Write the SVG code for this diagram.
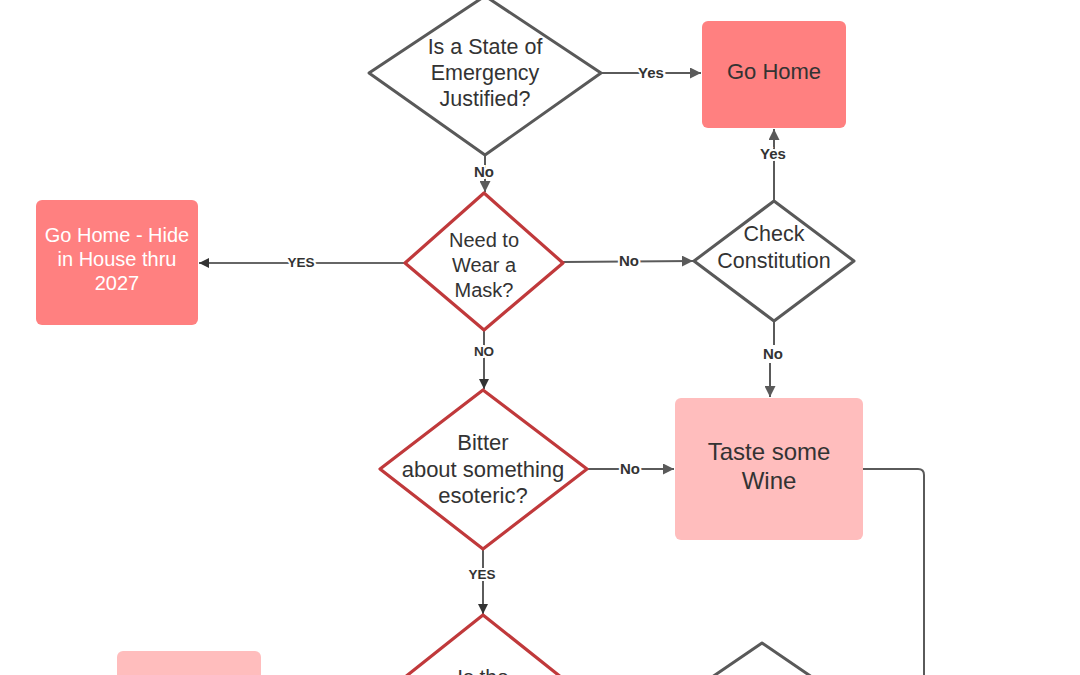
<svg xmlns="http://www.w3.org/2000/svg" width="1080" height="675" viewBox="0 0 1080 675">
<style>
.bg{fill:#ffffff}
.dg{fill:#ffffff;stroke:#595959;stroke-width:3;stroke-linejoin:round}
.dr{fill:#ffffff;stroke:#c0393b;stroke-width:3.2;stroke-linejoin:round}
.bx{fill:#ff8080}
.bp{fill:#ffbdbd}
.t{font-family:"Liberation Sans",Arial,sans-serif;fill:#333333;text-anchor:middle}
.tw{font-family:"Liberation Sans",Arial,sans-serif;fill:#ffffff;text-anchor:middle}
.c{fill:none;stroke:#5a5a5a;stroke-width:2}
.cd{fill:none;stroke:#333333;stroke-width:1.6}
.lb{font-family:"Liberation Sans",Arial,sans-serif;font-weight:bold;font-size:15px;fill:#333333;text-anchor:middle;stroke:#ffffff;stroke-width:4;paint-order:stroke}
.ls{font-size:13.5px}
</style>
<defs>
<marker id="ah" viewBox="0 0 10 10" refX="10" refY="5" markerWidth="11" markerHeight="11" markerUnits="userSpaceOnUse" orient="auto"><path d="M0,0 L10,5 L0,10 z" fill="#5a5a5a"/></marker>
<marker id="ahd" viewBox="0 0 10 10" refX="10" refY="5" markerWidth="10" markerHeight="10" markerUnits="userSpaceOnUse" orient="auto"><path d="M0,0 L10,5 L0,10 z" fill="#333333"/></marker>
</defs>
<rect class="bg" x="0" y="0" width="1080" height="675"/>

<g id="connectors">
<path class="c" d="M601,73 L701,73" marker-end="url(#ah)"/>
<text class="lb" x="651" y="78">Yes</text>
<path class="c" d="M485,155 L485,192" marker-end="url(#ah)"/>
<text class="lb" x="484" y="177">No</text>
<path class="cd" d="M405,263 L199,263" marker-end="url(#ahd)"/>
<text class="lb ls" x="301" y="267">YES</text>
<path class="c" d="M563,262 L693,261" marker-end="url(#ah)"/>
<text class="lb" x="629" y="266">No</text>
<path class="c" d="M774,201 L774,129" marker-end="url(#ah)"/>
<text class="lb" x="773" y="159">Yes</text>
<path class="c" d="M774,321 L774,345"/>
<path class="c" d="M770,363 L770,397" marker-end="url(#ah)"/>
<text class="lb" x="773" y="359">No</text>
<path class="cd" d="M484,330 L484,389" marker-end="url(#ahd)"/>
<text class="lb ls" x="484" y="356">NO</text>
<path class="c" d="M587,469 L674,469" marker-end="url(#ah)"/>
<text class="lb" x="630" y="474">No</text>
<path class="cd" d="M483,549 L483,614" marker-end="url(#ahd)"/>
<text class="lb ls" x="482" y="579">YES</text>
<path class="c" d="M863,469 L918,469 Q924,469 924,475 L924,680"/>
</g>

<g id="n-state">
<polygon class="dg" points="485,-4 601,73 485,155 369,73"/>
<text class="t" x="485" y="54" font-size="21.5">Is a State of</text>
<text class="t" x="485" y="80" font-size="21.5">Emergency</text>
<text class="t" x="485" y="106" font-size="21.5">Justified?</text>
</g>

<g id="n-gohome">
<rect class="bx" x="702" y="21" width="144" height="107" rx="6"/>
<text class="t" x="774" y="79" font-size="22">Go Home</text>
</g>

<g id="n-mask">
<polygon class="dr" points="484,193 563,263 484,330 405,263"/>
<text class="t" x="484" y="247" font-size="20">Need to</text>
<text class="t" x="484" y="272" font-size="20">Wear a</text>
<text class="t" x="484" y="297" font-size="20">Mask?</text>
</g>

<g id="n-hide">
<rect class="bx" x="36" y="200" width="162" height="125" rx="6"/>
<text class="tw" x="117" y="242" font-size="20">Go Home - Hide</text>
<text class="tw" x="117" y="266" font-size="20">in House thru</text>
<text class="tw" x="117" y="290" font-size="20">2027</text>
</g>

<g id="n-constitution">
<polygon class="dg" points="774,201 854,261 774,321 694,261"/>
<text class="t" x="774" y="241" font-size="21.5">Check</text>
<text class="t" x="774" y="268" font-size="21.5">Constitution</text>
</g>

<g id="n-bitter">
<polygon class="dr" points="483,390 587,469 483,549 380,469"/>
<text class="t" x="483" y="450" font-size="22">Bitter</text>
<text class="t" x="483" y="477" font-size="22">about something</text>
<text class="t" x="483" y="503" font-size="22">esoteric?</text>
</g>

<g id="n-wine">
<rect class="bp" x="675" y="398" width="188" height="142" rx="6"/>
<text class="t" x="769" y="460" font-size="24">Taste some</text>
<text class="t" x="769" y="489" font-size="24">Wine</text>
</g>

<g id="n-isthe">
<polygon class="dr" points="483,615 586,697 483,779 380,697"/>
<text class="t" x="483" y="684" font-size="21">Is the</text>
</g>

<g id="n-pink-bottom">
<rect class="bp" x="117" y="651" width="144" height="60" rx="6"/>
</g>

<g id="n-gray-bottom">
<polygon class="dg" points="762,643 828,688 762,733 696,688"/>
</g>
</svg>
